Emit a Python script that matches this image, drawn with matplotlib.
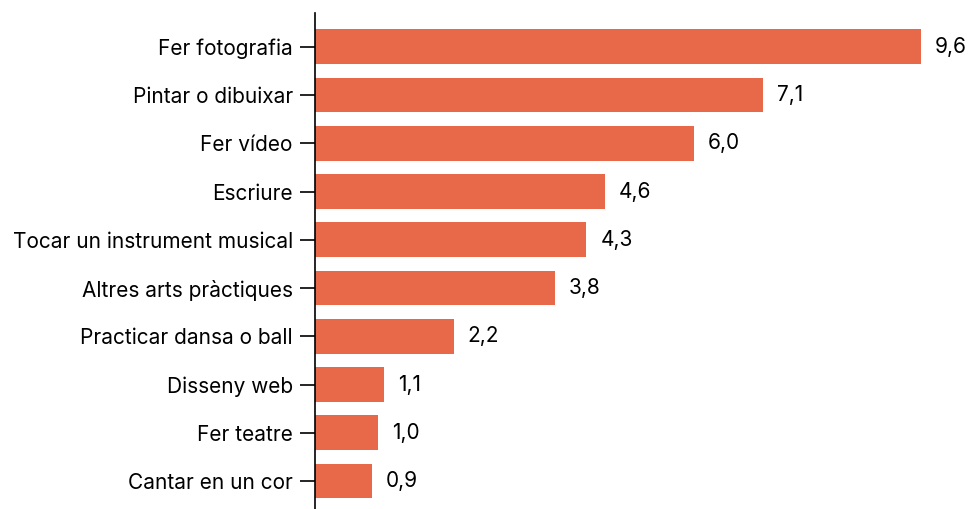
import matplotlib
matplotlib.use("Agg")
import matplotlib.pyplot as plt

# Data
categories = ["Fer fotografia", "Pintar o dibuixar", "Fer vídeo", "Escriure",
              "Tocar un instrument musical", "Altres arts pràctiques",
              "Practicar dansa o ball", "Disseny web", "Fer teatre", "Cantar en un cor"]
values = [9.6, 7.1, 6.0, 4.6, 4.3, 3.8, 2.2, 1.1, 1.0, 0.9]

bar_color = "#E8694A"
plt.rcParams["font.family"] = ["Inter", "DejaVu Sans"]

fig = plt.figure(figsize=(9.68, 5.09), dpi=100)
ax = fig.add_axes([0.3254, 0.0, 0.9514 - 0.3254, 0.9745])

ypos = list(range(len(categories)))
ax.barh(ypos, values, height=0.72, color=bar_color)

for y, v in zip(ypos, values):
    ax.annotate(f"{v:.1f}".replace(".", ","), xy=(v, y), xytext=(10, 0),
                textcoords="offset points", va="center", ha="left", fontsize=15)

ax.set_yticks(ypos)
ax.set_yticklabels(categories, fontsize=15)
ax.set_ylim(9.58, -0.7)
ax.set_xlim(0, 9.6)
ax.tick_params(axis="y", length=11, width=1.2, pad=5)
ax.set_xticks([])
for s in ["top", "right", "bottom"]:
    ax.spines[s].set_visible(False)
ax.spines["left"].set_linewidth(1.2)

fig.savefig("out.png", dpi=100)
